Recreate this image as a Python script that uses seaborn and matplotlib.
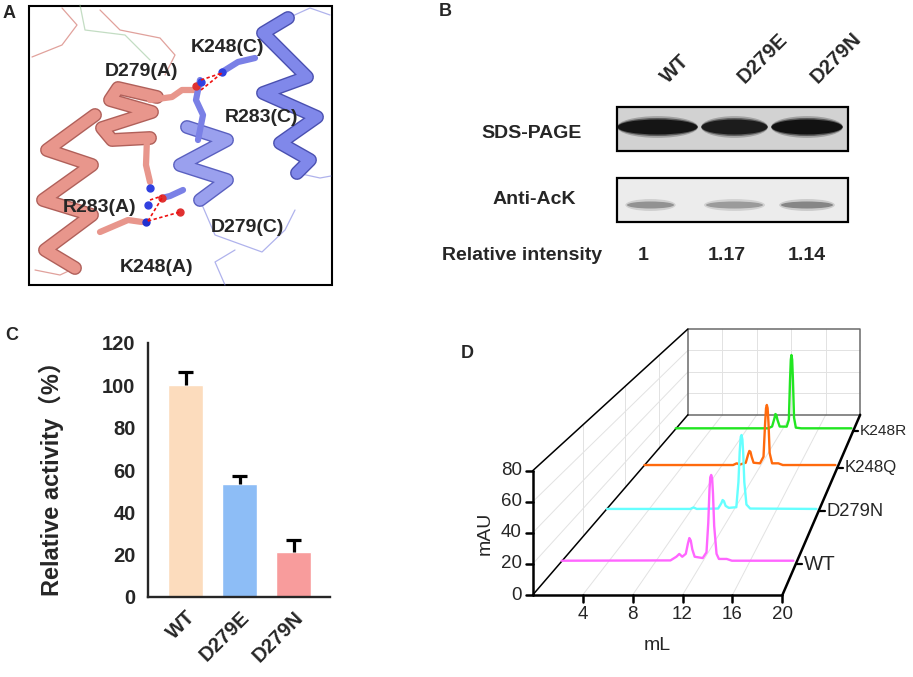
import numpy as np
import matplotlib
matplotlib.use("Agg")
import matplotlib.pyplot as plt
import seaborn as sns
from matplotlib.patches import Rectangle, Ellipse

sns.set_style("white")
plt.rcParams['font.family'] = ['Liberation Sans', 'Noto Sans CJK SC', 'DejaVu Sans']

# ---- panel C: relative activity ----
variants = ['WT', 'D279E', 'D279N']
activity = [100, 53.2, 21.3]
activity_err = [6.5, 4.1, 5.7]
bar_colors = ['#fcdcbd', '#8dbdf6', '#f89c9c']

# ---- panel B: gel ----
gel_lanes = ['WT', 'D279E', 'D279N']
rel_intensity = ['1', '1.17', '1.14']
sds_band_grey = ['#151515', '#1c1c1c', '#121212']
ack_band_grey = ['#8c8c8c', '#959595', '#7f7f7f']

# ---- panel D: SEC traces (mL, mAU) ----
sec_samples = ['WT', 'D279N', 'K248Q', 'K248R']
sec_colors = ['#ff66ff', '#66ffff', '#ff6a0d', '#22e622']
wt_ml = [0.2, 9.4, 9.9, 10.15, 10.4, 10.7, 10.88, 11.0, 11.12, 11.25, 11.45, 12.13, 12.45,
         12.6, 12.7, 12.77, 12.85, 12.93, 13.0, 13.1, 13.3, 13.5, 14.16, 14.6, 19.8]
wt_mau = [2.3, 2.5, 5, 6.9, 5, 7, 14, 17.7, 16, 10, 5, 4.1, 8,
          28, 50, 59, 60.6, 58, 48, 26, 7, 3.5, 3.5, 2.3, 2.3]
d279n_ml = [0.2, 8.0, 8.3, 8.6, 10.6, 10.9, 11.02, 11.14, 11.3, 11.6, 12.3, 12.5, 12.62,
            12.72, 12.79, 12.87, 12.95, 13.05, 13.25, 13.6, 19.8]
d279n_mau = [1.7, 1.7, 2.8, 1.7, 2, 6, 8.4, 7.6, 4, 2.5, 3, 22, 45,
             56, 57.3, 54, 43, 22, 5, 2, 1.7]
k248q_ml = [0.2, 9.3, 9.67, 10.0, 10.6, 10.85, 10.97, 11.08, 11.2, 11.4, 12.06, 12.42, 12.58,
            12.68, 12.76, 12.84, 12.93, 13.05, 13.3, 13.94, 14.4, 19.8]
k248q_mau = [2.1, 2.1, 3.5, 2.5, 4, 11, 13.7, 13, 9, 4, 3.5, 9, 36,
             49, 51.6, 49, 37, 12, 3.5, 3.5, 2.1, 2.1]
k248r_ml = [0.2, 10.5, 10.95, 11.2, 11.32, 11.42, 11.55, 11.8, 12.58, 12.82, 12.95, 13.04,
            13.11, 13.19, 13.28, 13.4, 13.6, 14.2, 19.8]
k248r_mau = [2.4, 2.4, 4, 11, 15.2, 14.5, 10, 4, 3.9, 10, 45, 64,
             68.1, 64, 45, 12, 3, 2.4, 2.4]
sec_traces = [(wt_ml, wt_mau), (d279n_ml, d279n_mau),
              (k248q_ml, k248q_mau), (k248r_ml, k248r_mau)]

# ---- panel A: schematic of the structure (pixel coords) ----
helix_salmon_1 = [(95, 115), (47, 150), (92, 165), (43, 200), (92, 215), (45, 250), (75, 268)]
helix_salmon_2 = [(157, 97), (118, 88), (110, 100), (152, 112), (102, 128), (112, 140), (150, 138)]
helix_blue_1 = [(288, 18), (263, 33), (307, 77), (263, 93), (317, 117), (280, 143), (310, 160), (297, 173)]
helix_blue_2 = [(187, 127), (227, 140), (180, 165), (227, 180), (200, 200)]
loops_salmon = [[(32, 57), (62, 45), (77, 25), (62, 8)],
                [(100, 10), (120, 30), (160, 38), (175, 55), (165, 75)],
                [(75, 268), (60, 275), (35, 270)]]
loops_blue = [[(297, 173), (320, 178), (331, 176)],
              [(200, 200), (215, 235), (262, 252), (285, 230), (295, 210)],
              [(225, 285), (215, 262), (235, 250)],
              [(288, 18), (310, 8), (330, 15)]]
loops_green = [[(80, 5), (85, 30), (125, 35), (150, 60)]]
sticks = [  # (points, color)
    ([(150, 100), (172, 97), (182, 90), (195, 90)], '#e8968c'),
    ([(255, 58), (238, 62), (222, 72)], '#7a80e6'),
    ([(200, 80), (196, 100), (203, 115), (198, 140)], '#7a80e6'),
    ([(147, 138), (146, 165), (150, 182)], '#e8968c'),
    ([(100, 232), (128, 220), (142, 222)], '#e8968c'),
    ([(183, 190), (170, 196), (162, 198)], '#7a80e6'),
]
atoms = [((196, 86), '#e03030'), ((201, 82), '#3040e0'), ((222, 72), '#3040e0'),
         ((150, 188), '#3040e0'), ((148, 205), '#3040e0'), ((146, 222), '#2030d0'),
         ((162, 198), '#e03030'), ((180, 212), '#e03030')]
hbonds = [((201, 80), (222, 73)), ((201, 90), (222, 73)), ((150, 200), (162, 196)),
          ((148, 221), (162, 198)), ((148, 221), (180, 212))]
res_labels = [('K248(C)', 227, 47), ('D279(A)', 142, 72), ('R283(C)', 262, 118),
              ('R283(A)', 100, 207), ('D279(C)', 247, 228), ('K248(A)', 157, 268)]

fig = plt.figure(figsize=(9.13, 6.77), dpi=100)
ov = fig.add_axes([0, 0, 1, 1])
ov.set_xlim(0, 913)
ov.set_ylim(677, 0)
ov.axis('off')

# panel labels
for lab, x, y in [('A', 9, 13), ('B', 445, 11), ('C', 12, 335), ('D', 467, 353)]:
    ov.text(x, y, lab, fontsize=13, fontweight='bold', ha='center', va='center')

# ---- A ----
for path in loops_salmon:
    xs, ys = zip(*path)
    ov.plot(xs, ys, color='#d47a72', lw=0.9, alpha=0.7)
for path in loops_blue:
    xs, ys = zip(*path)
    ov.plot(xs, ys, color='#7b80e0', lw=0.9, alpha=0.6)
for path in loops_green:
    xs, ys = zip(*path)
    ov.plot(xs, ys, color='#88bb88', lw=0.9, alpha=0.5)
for path, fill, edge in [(helix_salmon_1, '#e8968c', '#b0605a'), (helix_salmon_2, '#e8968c', '#b0605a'),
                         (helix_blue_1, '#8088ea', '#4a50b0'), (helix_blue_2, '#9aa0ee', '#5a60c0')]:
    xs, ys = zip(*path)
    ov.plot(xs, ys, color=edge, lw=10, solid_capstyle='round', solid_joinstyle='round')
    ov.plot(xs, ys, color=fill, lw=8, solid_capstyle='round', solid_joinstyle='round')
for path, col in sticks:
    xs, ys = zip(*path)
    ov.plot(xs, ys, color=col, lw=4.5, solid_capstyle='round', solid_joinstyle='round')
for (x, y), col in atoms:
    ov.plot([x], [y], 'o', color=col, ms=5)
for (x1, y1), (x2, y2) in hbonds:
    ov.plot([x1, x2], [y1, y2], color='#ee1111', lw=1.2, ls=(0, (2, 1.5)))
for lab, x, y in res_labels:
    ov.text(x, y, lab, fontsize=14, fontweight='bold', ha='center', va='center')
ov.add_patch(Rectangle((29, 6), 303, 279, fill=False, ec='black', lw=1.5))

# ---- B ----
sds_lanes = [(657.5, 80), (734.5, 66), (807, 71)]
ack_lanes = [(650.5, 47), (734.5, 57), (807, 52)]
ov.add_patch(Rectangle((617, 107), 231, 44, fc='#d2d2d2', ec='none'))
for (cx, w), col in zip(sds_lanes, sds_band_grey):
    for k, a in [(1.45, 0.25), (1.2, 0.5), (1.0, 1.0)]:
        ov.add_patch(Ellipse((cx, 127), w * (0.97 + 0.03 * k), 15 * k, fc=col, ec='none', alpha=a))
ov.add_patch(Rectangle((617, 107), 231, 44, fill=False, ec='black', lw=1.6))
ov.add_patch(Rectangle((617, 178), 231, 44, fc='#ececec', ec='none'))
for (cx, w), col in zip(ack_lanes, ack_band_grey):
    for k, a in [(1.7, 0.3), (1.0, 0.9)]:
        ov.add_patch(Ellipse((cx, 205), w * (0.9 + 0.1 * k), 7 * k, fc=col, ec='none', alpha=a))
ov.add_patch(Rectangle((617, 178), 231, 44, fill=False, ec='black', lw=1.6))
ov.text(532, 133, 'SDS-PAGE', fontsize=14, fontweight='bold', ha='center', va='center')
ov.text(534, 200, 'Anti-AcK', fontsize=14, fontweight='bold', ha='center', va='center')
ov.text(442, 255, 'Relative intensity', fontsize=14, fontweight='bold', ha='left', va='center')
for (cx, _), lane, val, vx in zip(sds_lanes, gel_lanes, rel_intensity, [643, 727, 807]):
    ov.text(cx + 13, 87, lane, fontsize=14.5, fontweight='bold', rotation=45,
            ha='left', va='bottom', rotation_mode='anchor')
    ov.text(vx, 255, val, fontsize=14, fontweight='bold', ha='center', va='center')

# ---- C ----
ax_c = fig.add_axes([148 / 913, 1 - 597 / 677, 182 / 913, 254 / 677])
sns.barplot(x=variants, y=activity, hue=variants, palette=bar_colors, width=0.65,
            saturation=1, legend=False, ax=ax_c)
# upper error bars only (T shape)
xpos = np.arange(len(variants))
tops = np.array(activity) + np.array(activity_err)
ax_c.vlines(xpos, activity, tops, color='black', lw=2.3)
ax_c.hlines(tops, xpos - 0.14, xpos + 0.14, color='black', lw=2.3)
ax_c.set_xlim(-0.70, 2.67)
ax_c.set_ylim(0, 120)
ax_c.set_yticks(range(0, 121, 20))
sns.despine(ax=ax_c)
for sp in ['left', 'bottom']:
    ax_c.spines[sp].set_linewidth(1.7)
ax_c.tick_params(axis='both', direction='out', length=5.5, width=1.7, labelsize=14.5)
ax_c.tick_params(axis='x', pad=2)
for t in ax_c.get_xticklabels() + ax_c.get_yticklabels():
    t.set_fontweight('bold')
plt.setp(ax_c.get_xticklabels(), rotation=45, ha='right', rotation_mode='anchor')
ax_c.set_ylabel('Relative activity（%）', fontsize=17, fontweight='bold')
ax_c.yaxis.set_label_coords(-0.46, 0.49)
ax_c.set_xlabel('')
ax_c.patch.set_alpha(0)

# ---- D: perspective box ----
D_X0, D_Y0 = 532.7, 595.0   # front corner (0 mL, 0 mAU)
D_W, D_H = 249.7, 124.3     # front face: 20 mL wide, 80 mAU high
VP = (1033.3, 13.7)
K_DEPTH = 0.1123
DEPTH = 4


def proj(ml, depth, mau):
    fx = D_X0 + np.asarray(ml, dtype=float) / 20 * D_W
    fy = D_Y0 - np.asarray(mau, dtype=float) / 80 * D_H
    s = 1 / (1 + K_DEPTH * depth)
    return VP[0] + (fx - VP[0]) * s, VP[1] + (fy - VP[1]) * s


def seg(p, q, **kw):
    ov.plot([p[0], q[0]], [p[1], q[1]], **kw)


grid_kw = dict(color='#e2e2e2', lw=0.7, zorder=1)
for x in [4, 8, 12, 16]:
    seg(proj(x, 0, 0), proj(x, DEPTH, 0), **grid_kw)
    seg(proj(x, DEPTH, 0), proj(x, DEPTH, 80), **grid_kw)
for z in [20, 40, 60]:
    seg(proj(0, 0, z), proj(0, DEPTH, z), **grid_kw)
    seg(proj(0, DEPTH, z), proj(20, DEPTH, z), **grid_kw)
for d in [1, 2, 3]:
    seg(proj(0, d, 0), proj(0, d, 80), **grid_kw)

back = [proj(0, DEPTH, 0), proj(0, DEPTH, 80), proj(20, DEPTH, 80), proj(20, DEPTH, 0), proj(0, DEPTH, 0)]
ov.plot([p[0] for p in back], [p[1] for p in back], color='#6a6a6a', lw=1.1, zorder=2)
seg(proj(0, 0, 80), proj(0, DEPTH, 80), color='black', lw=1.1, zorder=2)
seg(proj(0, 0, 0), proj(0, DEPTH, 0), color='black', lw=1.1, zorder=2)

for i in range(len(sec_samples) - 1, -1, -1):
    ml, mau = sec_traces[i]
    px, py = proj(ml, i + 0.5, mau)
    ov.plot(px, py, color=sec_colors[i], lw=1.7, zorder=3, solid_joinstyle='round')

seg(proj(0, 0, 0), proj(0, 0, 80), color='black', lw=1.8, zorder=4)
seg(proj(0, 0, 0), proj(20, 0, 0), color='black', lw=1.8, zorder=4)
seg(proj(20, 0, 0), proj(20, DEPTH, 0), color='black', lw=1.8, zorder=4)
for z in range(0, 81, 20):
    x, y = proj(0, 0, z)
    ov.plot([x - 7, x], [y, y], color='black', lw=1.8, zorder=4)
    ov.text(x - 11, y, str(z), fontsize=13.5, ha='right', va='center')
for xm in range(4, 21, 4):
    x, y = proj(xm, 0, 0)
    ov.plot([x, x], [y, y + 7], color='black', lw=1.8, zorder=4)
    ov.text(x, y + 11, str(xm), fontsize=13.5, ha='center', va='top')
for i, name in enumerate(sec_samples):
    d = i + 0.5
    s = 1 / (1 + K_DEPTH * d)
    x, y = proj(20, d, 0)
    ov.plot([x, x + 7 * s], [y, y], color='black', lw=1.6, zorder=4)
    ov.text(x + 9 * s, y, name, fontsize=15.5 * s, ha='left', va='center')
ov.text(485, 533, 'mAU', fontsize=14, rotation=90, ha='center', va='center')
ov.text(657, 645, 'mL', fontsize=14, ha='center', va='center')

fig.savefig('out.png', dpi=100)
